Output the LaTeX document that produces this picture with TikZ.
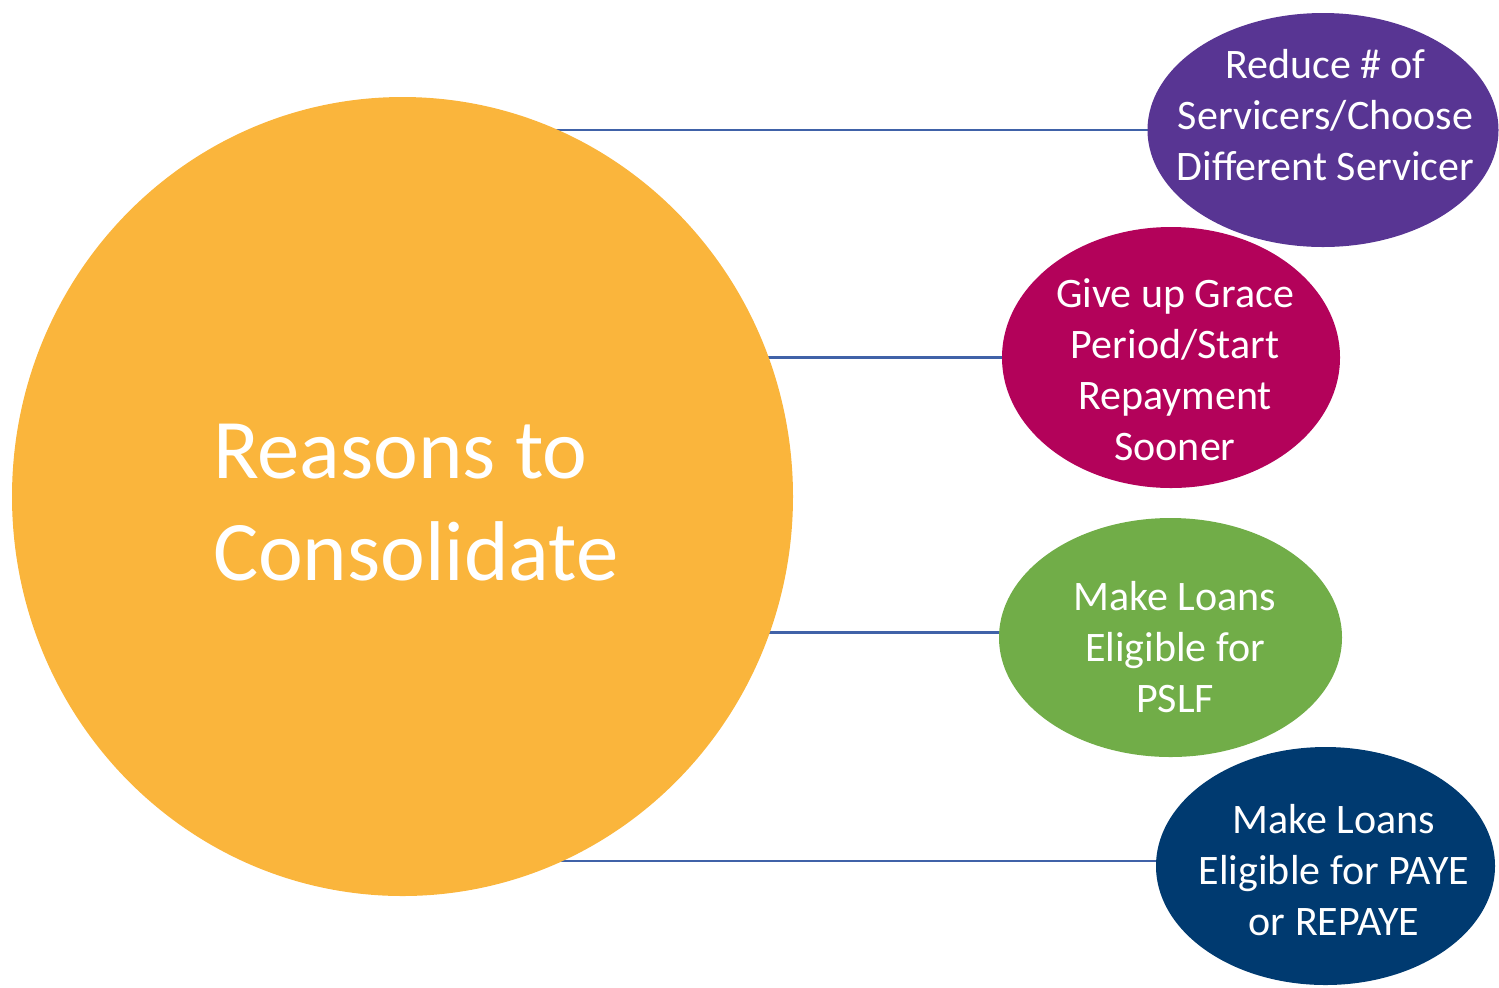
\documentclass[tikz,border=0pt]{standalone}
\usepackage{fontspec}
\setmainfont{Carlito}
\usetikzlibrary{shapes.geometric,backgrounds}
\definecolor{sun}{HTML}{FAB53C}
\definecolor{grape}{HTML}{583593}
\definecolor{berry}{HTML}{B3025A}
\definecolor{leaf}{HTML}{71AD48}
\definecolor{navy}{HTML}{003A70}
\definecolor{linkblue}{HTML}{4062A8}
\begin{document}
\begin{tikzpicture}[x=0.5pt,y=-0.5pt,
  blob/.style={ellipse, inner sep=0pt, draw=none},
  lbl/.style={text=white, font=\fontsize{21}{25.5}\selectfont, align=center, anchor=base},
  link/.style={draw=linkblue, line width=1.2pt}]
\useasboundingbox (0,0) rectangle (1499,987);
% central circle
\node[blob, fill=sun, minimum width=390.5pt, minimum height=399.5pt] (hub) at (402.5,496.5) {};
% reason bubbles
\node[blob, fill=berry, minimum width=169pt, minimum height=130.5pt] (e2) at (1171,357.5) {};
\node[blob, fill=grape, minimum width=175.5pt, minimum height=117pt] (e1) at (1323,130) {};
\node[blob, fill=leaf, minimum width=171.5pt, minimum height=119.5pt] (e3) at (1170.5,637.5) {};
\node[blob, fill=navy, minimum width=169.5pt, minimum height=119pt] (e4) at (1325.5,866) {};
% connectors behind the shapes
\begin{pgfonlayer}{background}
\draw[link] (e1.center) -- (e1.center -| hub.center);
\draw[link] (e2.center) -- (e2.center -| hub.center);
\draw[link] ([yshift=2.5pt]e3.center) -- ([yshift=2.5pt]e3.center -| hub.center);
\draw[link] ([yshift=2.5pt]e4.center) -- ([yshift=2.5pt]e4.center -| hub.center);
\end{pgfonlayer}
% labels (anchored at the baseline of their last line)
\node[text=white, font=\fontsize{42.4}{51}\selectfont, align=left, anchor=base west] (title) at (206,580) {Reasons to\\Consolidate};
\node[lbl] (t1) at (1325.5,180) {Reduce \# of\\Servicers/Choose\\Different Servicer};
\node[lbl] (t2) at (1175,460) {Give up Grace\\Period/Start\\Repayment\\Sooner};
\node[lbl] (t3) at (1175,712) {Make Loans\\Eligible for\\PSLF};
\node[lbl] (t4) at (1334,935) {Make Loans\\Eligible for PAYE\\or REPAYE};
\end{tikzpicture}
\end{document}
